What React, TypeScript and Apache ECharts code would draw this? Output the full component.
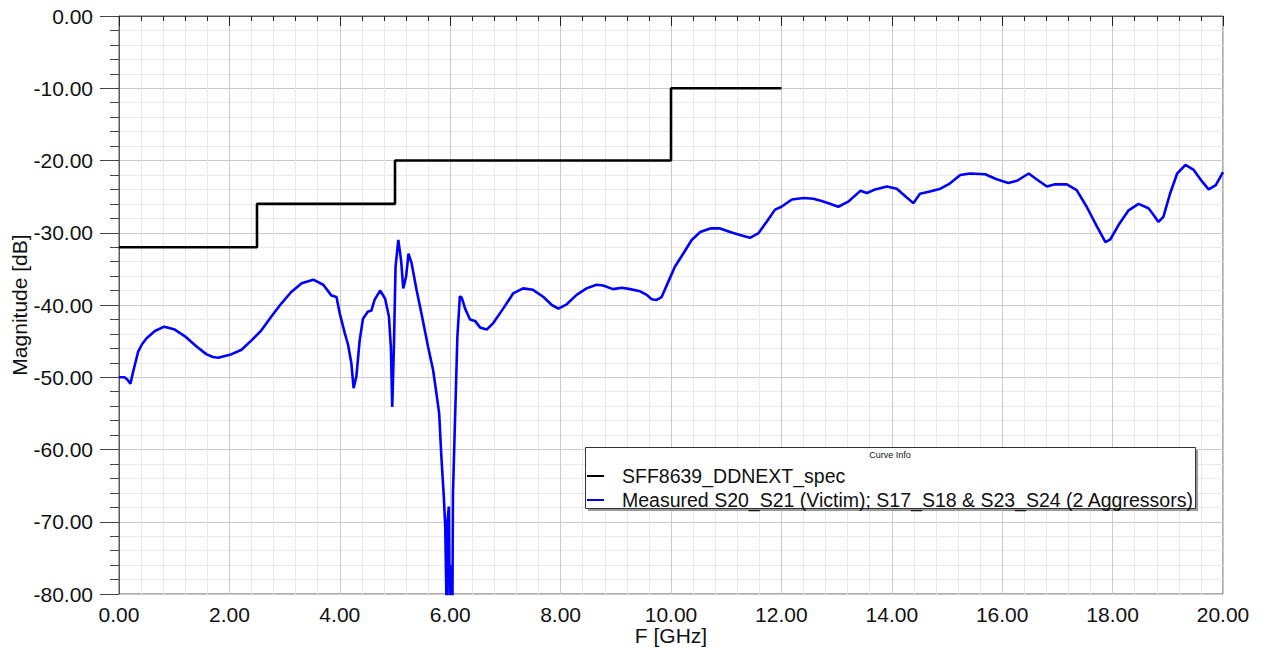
import React, { useEffect, useRef } from "react";
import * as echarts from "echarts";

const specName = "SFF8639_DDNEXT_spec";
const measName = "Measured S20_S21 (Victim); S17_S18 & S23_S24 (2 Aggressors)";

const specFreq = [0, 2.5, 2.5, 5, 5, 10, 10, 12];
const specMag = [-32, -32, -26, -26, -20, -20, -10, -10];

const measFreq = [
  0, 0.1, 0.15, 0.207, 0.254, 0.345, 0.42, 0.5, 0.65, 0.82, 1.01, 1.19, 1.4, 1.58, 1.7, 1.8, 1.9, 2.01,
  2.22, 2.4, 2.58, 2.76, 2.94, 3.12, 3.31, 3.52, 3.7, 3.85, 3.94, 4.0, 4.09, 4.15, 4.21, 4.25, 4.3,
  4.36, 4.42, 4.51, 4.57, 4.63, 4.73, 4.82, 4.89, 4.925, 4.95, 4.98, 5.01, 5.06, 5.11, 5.15, 5.2,
  5.245, 5.3, 5.39, 5.48, 5.6, 5.69, 5.75, 5.8, 5.84, 5.885, 5.91, 5.935, 5.95, 5.975, 5.99, 6.02,
  6.04, 6.05, 6.1, 6.13, 6.175, 6.21, 6.27, 6.36, 6.45, 6.54, 6.66, 6.78, 6.96, 7.14, 7.32, 7.5,
  7.69, 7.84, 7.96, 8.11, 8.29, 8.47, 8.65, 8.77, 8.95, 9.11, 9.26, 9.44, 9.56, 9.65, 9.74, 9.83,
  9.95, 10.07, 10.22, 10.375, 10.53, 10.71, 10.89, 11.07, 11.25, 11.43, 11.58, 11.73, 11.885, 12.0,
  12.19, 12.4, 12.58, 12.73, 12.88, 13.03, 13.21, 13.43, 13.55, 13.7, 13.91, 14.09, 14.24, 14.39,
  14.51, 14.69, 14.88, 15.05, 15.24, 15.42, 15.69, 15.9, 16.11, 16.27, 16.48, 16.66, 16.81, 16.96,
  17.17, 17.35, 17.53, 17.72, 17.87, 17.96, 18.11, 18.29, 18.47, 18.65, 18.74, 18.83, 18.92, 19.04,
  19.17, 19.32, 19.47, 19.62, 19.74, 19.87, 20.0,
];
const measMag = [
  -50.0, -50.0, -50.3, -50.9, -49.3, -46.5, -45.4, -44.6, -43.6, -43.0, -43.4, -44.3, -45.7, -46.8,
  -47.2, -47.3, -47.1, -46.9, -46.2, -44.9, -43.5, -41.6, -39.8, -38.2, -37.0, -36.5, -37.2, -38.7,
  -38.9, -41.2, -43.9, -45.5, -48.1, -51.5, -49.9, -44.9, -41.9, -40.9, -40.8, -39.3, -38.0, -39.1,
  -41.6, -45.8, -54.1, -45.8, -34.7, -31.0, -33.8, -37.7, -36.1, -32.9, -34.2, -37.9, -41.2, -45.8,
  -49.0, -52.2, -55.0, -61.0, -66.6, -70.7, -82.0, -70.0, -67.9, -82.0, -76.0, -82.0, -66.1, -52.5,
  -44.4, -38.8, -39.0, -40.5, -42.0, -42.2, -43.1, -43.4, -42.5, -40.5, -38.4, -37.7, -37.9, -38.9,
  -40.0, -40.5, -39.9, -38.6, -37.7, -37.2, -37.3, -37.8, -37.6, -37.8, -38.1, -38.6, -39.2, -39.3,
  -38.9, -36.8, -34.7, -32.9, -31.0, -29.9, -29.4, -29.4, -29.9, -30.3, -30.7, -30.1, -28.5, -26.8,
  -26.4, -25.4, -25.2, -25.3, -25.6, -26.0, -26.4, -25.7, -24.2, -24.5, -24.0, -23.6, -23.9, -24.9,
  -25.9, -24.6, -24.3, -23.9, -23.2, -22.0, -21.8, -21.9, -22.6, -23.1, -22.8, -21.8, -22.8, -23.6,
  -23.3, -23.3, -24.1, -26.4, -29.2, -31.3, -30.9, -28.9, -26.9, -26.0, -26.6, -27.5, -28.5, -27.8,
  -24.6, -21.8, -20.6, -21.3, -22.9, -24.0, -23.4, -21.6,
];

const xTickInterval = 2;
const yTickInterval = 10;

const FONT = "'Liberation Sans', Arial, sans-serif";

export default function App() {
  const ref = useRef<HTMLDivElement>(null);
  useEffect(() => {
    if (!ref.current) return;
    const chart = echarts.init(ref.current, undefined, { renderer: "svg" });
    const spec = specFreq.map((f, i) => [f, specMag[i]]);
    const meas = measFreq.map((f, i) => [f, measMag[i]]);
    const axisColor = "#5a5a5a";
    chart.setOption({
      animation: false,
      backgroundColor: "#ffffff",
      textStyle: { fontFamily: FONT },
      grid: {
        left: 119,
        top: 16,
        right: 45,
        bottom: 56,
        containLabel: false,
        outerBoundsMode: "none",
        show: true,
        borderColor: axisColor,
        borderWidth: 1,
        backgroundColor: "transparent",
      },
      xAxis: {
        type: "value",
        min: 0,
        max: 20,
        interval: xTickInterval,
        name: "F [GHz]",
        nameLocation: "middle",
        nameGap: 31,
        nameMoveOverlap: false,
        nameTextStyle: { fontSize: 21, color: "#111", fontFamily: FONT },
        axisLine: { show: true, lineStyle: { color: axisColor, width: 1 } },
        axisTick: { show: true, length: 10, lineStyle: { color: "#222" } },
        minorTick: { show: true, splitNumber: 5, length: 5, lineStyle: { color: "#222" } },
        axisLabel: {
          fontSize: 21,
          color: "#111",
          margin: 10,
          fontFamily: FONT,
          formatter: (v: number) => v.toFixed(2),
        },
        splitLine: { show: true, lineStyle: { color: "#cacaca", width: 1 } },
        minorSplitLine: { show: true, lineStyle: { color: "#e9e9e9", width: 1 } },
      },
      yAxis: {
        type: "value",
        min: -80,
        max: 0,
        interval: yTickInterval,
        name: "Magnitude [dB]",
        nameLocation: "middle",
        nameGap: 89,
        nameMoveOverlap: false,
        nameTextStyle: { fontSize: 21, color: "#111", fontFamily: FONT },
        axisLine: { show: true, lineStyle: { color: axisColor, width: 1 } },
        axisTick: { show: true, length: 19, lineStyle: { color: "#444" } },
        minorTick: { show: true, splitNumber: 5, length: 9, lineStyle: { color: "#444" } },
        axisLabel: {
          fontSize: 21,
          color: "#111",
          margin: 26,
          fontFamily: FONT,
          formatter: (v: number) => v.toFixed(2),
        },
        splitLine: { show: true, lineStyle: { color: "#cacaca", width: 1 } },
        minorSplitLine: { show: true, lineStyle: { color: "#e9e9e9", width: 1 } },
      },
      legend: {
        orient: "vertical",
        left: 587,
        top: 466,
        itemWidth: 17,
        itemHeight: 2,
        itemGap: 4,
        icon: "rect",
        padding: 0,
        z: 120,
        textStyle: { fontSize: 19.5, color: "#111", fontFamily: FONT, padding: [0, 0, 0, 13] },
        data: [
          { name: specName, itemStyle: { color: "#000000" } },
          { name: measName, itemStyle: { color: "#0000ff" } },
        ],
      },
      graphic: [
        {
          type: "rect",
          z: 100,
          shape: { x: 588, y: 450, width: 610, height: 61 },
          style: { fill: "#9a9a9a" },
        },
        {
          type: "rect",
          z: 101,
          shape: { x: 585.5, y: 447.5, width: 610, height: 61 },
          style: { fill: "#ffffff", stroke: "#333", lineWidth: 1 },
        },
        {
          type: "text",
          z: 102,
          x: 890,
          y: 455,
          style: {
            text: "Curve Info",
            fontSize: 9,
            fill: "#111",
            fontFamily: FONT,
            align: "center",
            verticalAlign: "middle",
          },
        },
      ],
      series: [
        {
          name: specName,
          type: "line",
          data: spec,
          showSymbol: false,
          symbol: "none",
          lineStyle: { color: "#000000", width: 2.6 },
          itemStyle: { color: "#000000" },
          z: 5,
        },
        {
          name: measName,
          type: "line",
          data: meas,
          showSymbol: false,
          symbol: "none",
          clip: true,
          lineStyle: { color: "#0000ff", width: 2.6 },
          itemStyle: { color: "#0000ff" },
          z: 4,
        },
      ],
    });
    return () => chart.dispose();
  }, []);
  return (
    <div
      ref={ref}
      style={{ position: "fixed", left: 0, top: 0, width: 1268, height: 650, background: "#fff" }}
    />
  );
}
